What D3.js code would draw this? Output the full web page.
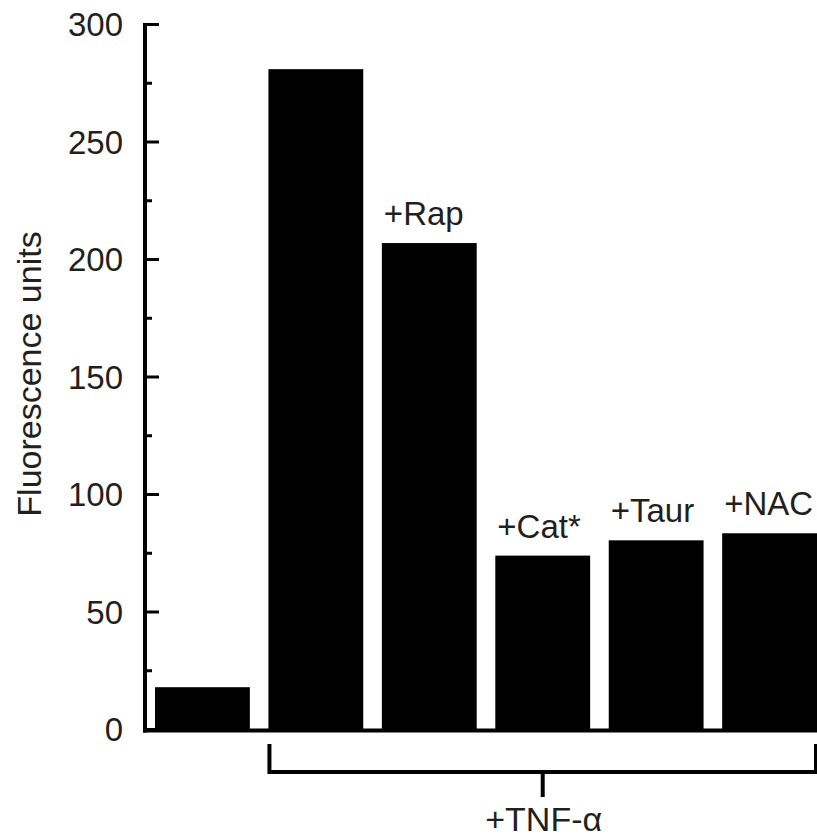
<!DOCTYPE html>
<html>
<head>
<meta charset="utf-8">
<script src="https://cdn.jsdelivr.net/npm/d3@7"></script>
<style>
  body { margin: 0; background: #fff; }
  text { font-family: "Liberation Sans", Arial, Helvetica, sans-serif; fill: #231f20; }
</style>
</head>
<body>
<svg id="chart" width="817" height="840"></svg>
<script>
// data
var groups = ["Control", "TNF", "Rap", "Cat", "Taur", "NAC"];
var values = [18, 281, 207, 74, 80.5, 83.5];
var barLabels = ["", "", "+Rap", "+Cat*", "+Taur", "+NAC"];
var majorTicks = [0, 50, 100, 150, 200, 250, 300];
var minorTicks = [25, 75, 125, 175, 225, 275];
var yTitle = "Fluorescence units";
var bracketLabel = "+TNF-\u03b1";
var bracketGroups = ["TNF", "NAC"];

var svg = d3.select("#chart");

var y = d3.scaleLinear()
  .domain([0, 300])
  .range([729.5, 24.5]);

var x = d3.scaleBand()
  .domain(groups)
  .range([155, 817])
  .paddingInner(0.164)
  .paddingOuter(0);

var axisX = 145;

// bars
svg.append("g").selectAll("rect")
  .data(groups)
  .enter().append("rect")
  .attr("x", function(d) { return x(d); })
  .attr("width", x.bandwidth())
  .attr("y", function(d, i) { return y(values[i]); })
  .attr("height", function(d, i) { return y(0) - y(values[i]) + 2; })
  .style("fill", "#000");

// bar labels
svg.append("g").selectAll("text")
  .data(groups)
  .enter().append("text")
  .attr("x", function(d) { return x(d) + 2; })
  .attr("y", function(d, i) { return y(values[i]) - 18; })
  .style("font-size", "33px")
  .text(function(d, i) { return barLabels[i]; });

// y axis line and baseline
svg.append("line")
  .attr("x1", axisX).attr("x2", axisX)
  .attr("y1", y(300) - 1.5).attr("y2", y(0) + 3)
  .style("stroke", "#000").style("stroke-width", 4);

svg.append("line")
  .attr("x1", axisX - 2).attr("x2", 817)
  .attr("y1", y(0) + 1).attr("y2", y(0) + 1)
  .style("stroke", "#000").style("stroke-width", 4);

// ticks, pointing inward
svg.append("g").selectAll("line")
  .data(majorTicks)
  .enter().append("line")
  .attr("x1", axisX).attr("x2", axisX + 14)
  .attr("y1", function(d) { return y(d); })
  .attr("y2", function(d) { return y(d); })
  .style("stroke", "#000").style("stroke-width", 3);

svg.append("g").selectAll("line")
  .data(minorTicks)
  .enter().append("line")
  .attr("x1", axisX).attr("x2", axisX + 7)
  .attr("y1", function(d) { return y(d); })
  .attr("y2", function(d) { return y(d); })
  .style("stroke", "#000").style("stroke-width", 3);

svg.append("g").selectAll("text")
  .data(majorTicks)
  .enter().append("text")
  .attr("x", 123)
  .attr("y", function(d) { return y(d); })
  .attr("dy", "0.36em")
  .attr("text-anchor", "end")
  .style("font-size", "33px")
  .text(function(d) { return d; });

// y title
svg.append("text")
  .attr("transform", "translate(41," + 374 + ") rotate(-90)")
  .attr("text-anchor", "middle")
  .style("font-size", "34px")
  .text(yTitle);

// TNF bracket under the treated bars
var bx1 = x(bracketGroups[0]) + 1,
    bx2 = x(bracketGroups[1]) + x.bandwidth() - 1,
    by = 772,
    bmid = (bx1 + bx2) / 2;

svg.append("path")
  .attr("d", "M" + bx1 + ",744V" + by + "H" + bx2 + "V744")
  .style("fill", "none")
  .style("stroke", "#000")
  .style("stroke-width", 4);

svg.append("line")
  .attr("x1", bmid).attr("x2", bmid)
  .attr("y1", by).attr("y2", 797)
  .style("stroke", "#000").style("stroke-width", 4);

svg.append("text")
  .attr("x", bmid + 1)
  .attr("y", 831)
  .attr("text-anchor", "middle")
  .style("font-size", "34px")
  .text(bracketLabel);
</script>
</body>
</html>
